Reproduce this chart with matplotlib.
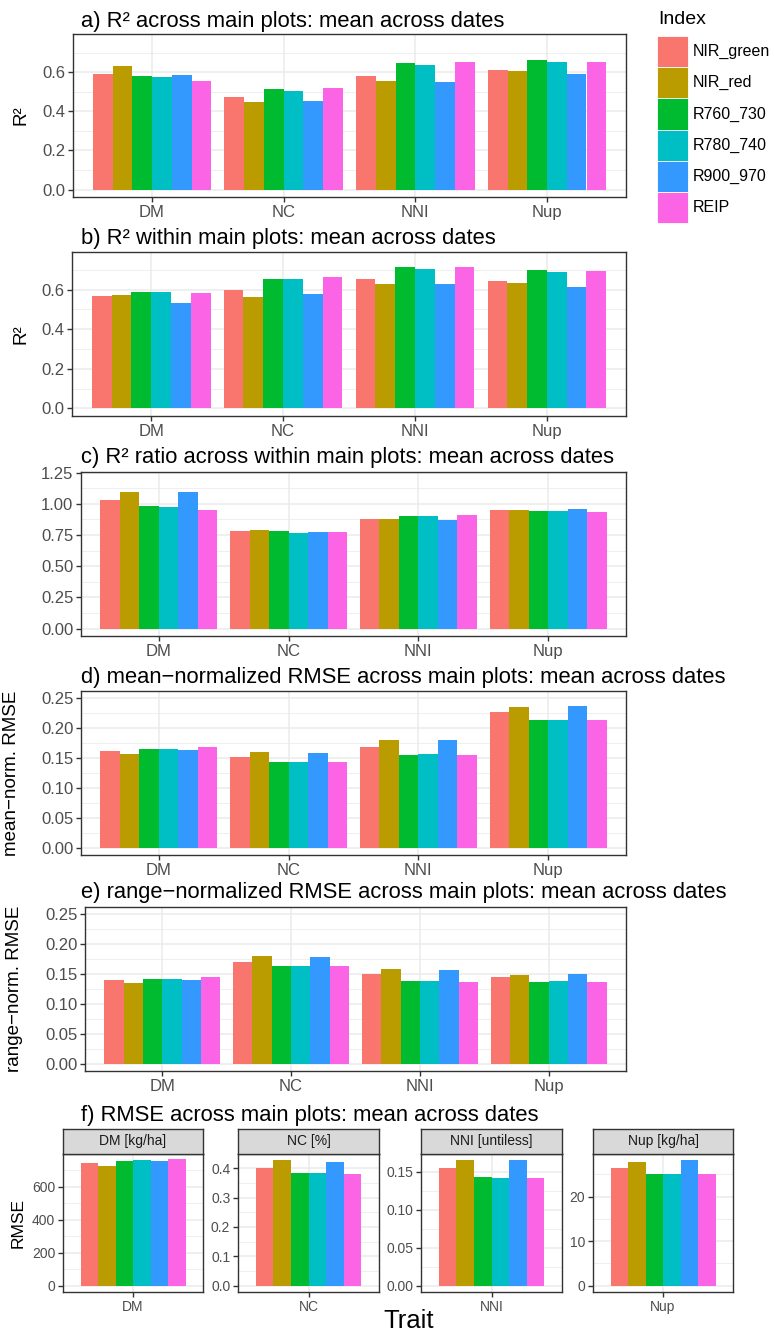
import matplotlib
matplotlib.use('Agg')
import matplotlib.pyplot as plt
from matplotlib.patches import Rectangle
import numpy as np

plt.rcParams['font.family'] = ['Liberation Sans', 'DejaVu Sans']

W, H = 774, 1335

traits = ['DM', 'NC', 'NNI', 'Nup']
indices = ['NIR_green', 'NIR_red', 'R760_730', 'R780_740', 'R900_970', 'REIP']
colors = ['#F8766D', '#BB9C00', '#00BA30', '#00BFC4', '#3399FF', '#FC64E6']
facet_labels = ['DM [kg/ha]', 'NC [%]', 'NNI [untiless]', 'Nup [kg/ha]']

# rows = traits (DM, NC, NNI, Nup), columns = indices
r2_across = [[0.590, 0.630, 0.582, 0.573, 0.585, 0.557],
             [0.473, 0.450, 0.515, 0.503, 0.455, 0.518],
             [0.580, 0.557, 0.648, 0.635, 0.550, 0.650],
             [0.613, 0.607, 0.660, 0.650, 0.592, 0.650]]
r2_within = [[0.570, 0.572, 0.590, 0.587, 0.530, 0.585],
             [0.600, 0.565, 0.655, 0.652, 0.578, 0.662],
             [0.655, 0.630, 0.715, 0.702, 0.630, 0.712],
             [0.643, 0.635, 0.698, 0.687, 0.612, 0.693]]
r2_ratio = [[1.031, 1.095, 0.983, 0.975, 1.098, 0.948],
            [0.783, 0.793, 0.780, 0.769, 0.777, 0.777],
            [0.881, 0.879, 0.900, 0.900, 0.868, 0.908],
            [0.948, 0.954, 0.940, 0.943, 0.962, 0.935]]
rmse_mean_norm = [[0.162, 0.157, 0.165, 0.166, 0.163, 0.169],
                  [0.151, 0.160, 0.144, 0.144, 0.159, 0.143],
                  [0.169, 0.180, 0.156, 0.157, 0.180, 0.155],
                  [0.227, 0.236, 0.214, 0.214, 0.238, 0.214]]
rmse_range_norm = [[0.140, 0.135, 0.141, 0.142, 0.140, 0.145],
                   [0.171, 0.181, 0.163, 0.164, 0.179, 0.163],
                   [0.150, 0.158, 0.138, 0.139, 0.157, 0.137],
                   [0.145, 0.149, 0.136, 0.138, 0.150, 0.137]]
rmse_abs = [[744, 725, 754, 758, 756, 764],
            [0.400, 0.427, 0.383, 0.383, 0.421, 0.380],
            [0.154, 0.165, 0.1425, 0.142, 0.1645, 0.141],
            [26.5, 27.7, 25.1, 25.1, 28.2, 25.1]]

BORDER = '#333333'
GRID = '#EBEBEB'
TICKLAB = '#4D4D4D'

fig = plt.figure(figsize=(W / 100, H / 100), dpi=100)

# overlay in pixel coordinates for titles, labels and legend
ov = fig.add_axes([0, 0, 1, 1], zorder=5)
ov.set_xlim(0, W)
ov.set_ylim(H, 0)
ov.axis('off')
ov.patch.set_alpha(0)


def px_axes(x0, y0, x1, y1):
    return fig.add_axes([x0 / W, 1 - y1 / H, (x1 - x0) / W, (y1 - y0) / H])


def style_axes(ax, yticks, ylabels, yminor, ylim, xlim, labelsize=12):
    ax.set_ylim(*ylim)
    ax.set_xlim(*xlim)
    ax.set_yticks(yticks)
    ax.set_yticklabels(ylabels)
    ax.set_yticks(yminor, minor=True)
    ax.set_axisbelow(True)
    ax.grid(which='major', color=GRID, lw=1.1)
    ax.grid(which='minor', axis='y', color=GRID, lw=0.55)
    for s in ax.spines.values():
        s.set_color(BORDER)
        s.set_linewidth(1.0)
    ax.tick_params(which='major', length=3.5, width=1, color=BORDER,
                   labelcolor=TICKLAB, labelsize=labelsize, pad=2)
    ax.tick_params(which='minor', length=0)


def dodge_bars(ax, data, xs):
    data = np.asarray(data, dtype=float)
    for j, name in enumerate(indices):
        ax.bar(xs + (j - 2.5) * 0.15, data[:, j], width=0.15,
               color=colors[j], label=name, linewidth=0)


x = np.arange(1, len(traits) + 1)
XL = (0.4, 4.6)

panels = [
    # data, box (x0,y0,x1,y1), ticks, labels, minor, ylim, title, ylabel, ylabel x
    (r2_across, (73, 34, 626, 197), [0, 0.2, 0.4, 0.6], ['0.0', '0.2', '0.4', '0.6'],
     [0.1, 0.3, 0.5, 0.7], (-0.038, 0.795),
     'a) R\u00b2 across main plots: mean across dates', 'R\u00b2', 21),
    (r2_within, (72, 252, 626, 416), [0, 0.2, 0.4, 0.6], ['0.0', '0.2', '0.4', '0.6'],
     [0.1, 0.3, 0.5, 0.7], (-0.038, 0.79),
     'b) R\u00b2 within main plots: mean across dates', 'R\u00b2', 21),
    (r2_ratio, (81, 472, 626, 636), [0, 0.25, 0.5, 0.75, 1.0, 1.25],
     ['0.00', '0.25', '0.50', '0.75', '1.00', '1.25'],
     [0.125, 0.375, 0.625, 0.875, 1.125], (-0.06, 1.255),
     'c) R\u00b2 ratio across within main plots: mean across dates', None, 0),
    (rmse_mean_norm, (81, 691, 626, 855), [0, 0.05, 0.1, 0.15, 0.2, 0.25],
     ['0.00', '0.05', '0.10', '0.15', '0.20', '0.25'],
     [0.025, 0.075, 0.125, 0.175, 0.225], (-0.0125, 0.2625),
     'd) mean\u2212normalized RMSE across main plots: mean across dates',
     'mean\u2212norm. RMSE', 12),
    (rmse_range_norm, (85, 907, 626, 1071), [0, 0.05, 0.1, 0.15, 0.2, 0.25],
     ['0.00', '0.05', '0.10', '0.15', '0.20', '0.25'],
     [0.025, 0.075, 0.125, 0.175, 0.225], (-0.0125, 0.2625),
     'e) range\u2212normalized RMSE across main plots: mean across dates',
     'range\u2212norm. RMSE', 15),
]

title_base = [27, 244, 463, 683, 898]

for (data, box, yt, yl, ym, ylim, title, ylab, ylx), tb in zip(panels, title_base):
    ax = px_axes(*box)
    dodge_bars(ax, data, x)
    style_axes(ax, yt, yl, ym, ylim, XL)
    ax.set_xticks(x)
    ax.set_xticklabels(traits)
    ov.text(81, tb, title, fontsize=15.8, ha='left', va='baseline', color='black')
    if ylab:
        ov.text(ylx, (box[1] + box[3]) / 2, ylab, rotation=90, fontsize=13.5,
                ha='center', va='center', color='black')

# f) facets with free y scales
facet_x = [(63, 203), (238, 379), (421, 562), (593, 733)]
facet_ticks = [([0, 200, 400, 600], ['0', '200', '400', '600'], [100, 300, 500, 700], (-38, 797)),
               ([0, 0.1, 0.2, 0.3, 0.4], ['0.0', '0.1', '0.2', '0.3', '0.4'],
                [0.05, 0.15, 0.25, 0.35], (-0.0214, 0.448)),
               ([0, 0.05, 0.1, 0.15], ['0.00', '0.05', '0.10', '0.15'],
                [0.025, 0.075, 0.125], (-0.00826, 0.173)),
               ([0, 10, 20], ['0', '10', '20'], [5, 15, 25], (-1.41, 29.6))]
strip_top, strip_bot, pan_bot = 1129, 1154, 1292

for k, (x0, x1) in enumerate(facet_x):
    ax = px_axes(x0, strip_bot, x1, pan_bot)
    vals = np.array(rmse_abs[k], dtype=float)
    for j, name in enumerate(indices):
        ax.bar(1 + (j - 2.5) * 0.15, vals[j], width=0.15, color=colors[j], linewidth=0)
    yt, yl, ym, ylim = facet_ticks[k]
    style_axes(ax, yt, yl, ym, ylim, (0.4, 1.6), labelsize=10)
    ax.set_xticks([1])
    ax.set_xticklabels([traits[k]])
    # strip
    sax = px_axes(x0, strip_top, x1, strip_bot)
    sax.set_facecolor('#D9D9D9')
    sax.set_xticks([])
    sax.set_yticks([])
    for s in sax.spines.values():
        s.set_color(BORDER)
        s.set_linewidth(1.0)
    sax.text(0.5, 0.5, facet_labels[k], transform=sax.transAxes, ha='center',
             va='center', fontsize=10, color='#1A1A1A')

ov.text(81, 1121, 'f) RMSE across main plots: mean across dates', fontsize=15.8,
        ha='left', va='baseline', color='black')
ov.text(18, (strip_bot + pan_bot) / 2, 'RMSE', rotation=90, fontsize=12.5,
        ha='center', va='center', color='black')
ov.text(409, 1321, 'Trait', fontsize=18.5, ha='center', va='center', color='black')

# legend
ov.text(658, 20, 'Index', fontsize=14, ha='left', va='center', color='black')
key_h = 31.2
for j, name in enumerate(indices):
    top = 36 + j * key_h
    ov.add_patch(Rectangle((657, top), 31, key_h, facecolor=colors[j],
                           edgecolor='white', linewidth=0.6))
    ov.text(693, top + key_h / 2, name, fontsize=11.5, ha='left', va='center',
            color='black')

fig.savefig('out.png', dpi=100, facecolor='white')
